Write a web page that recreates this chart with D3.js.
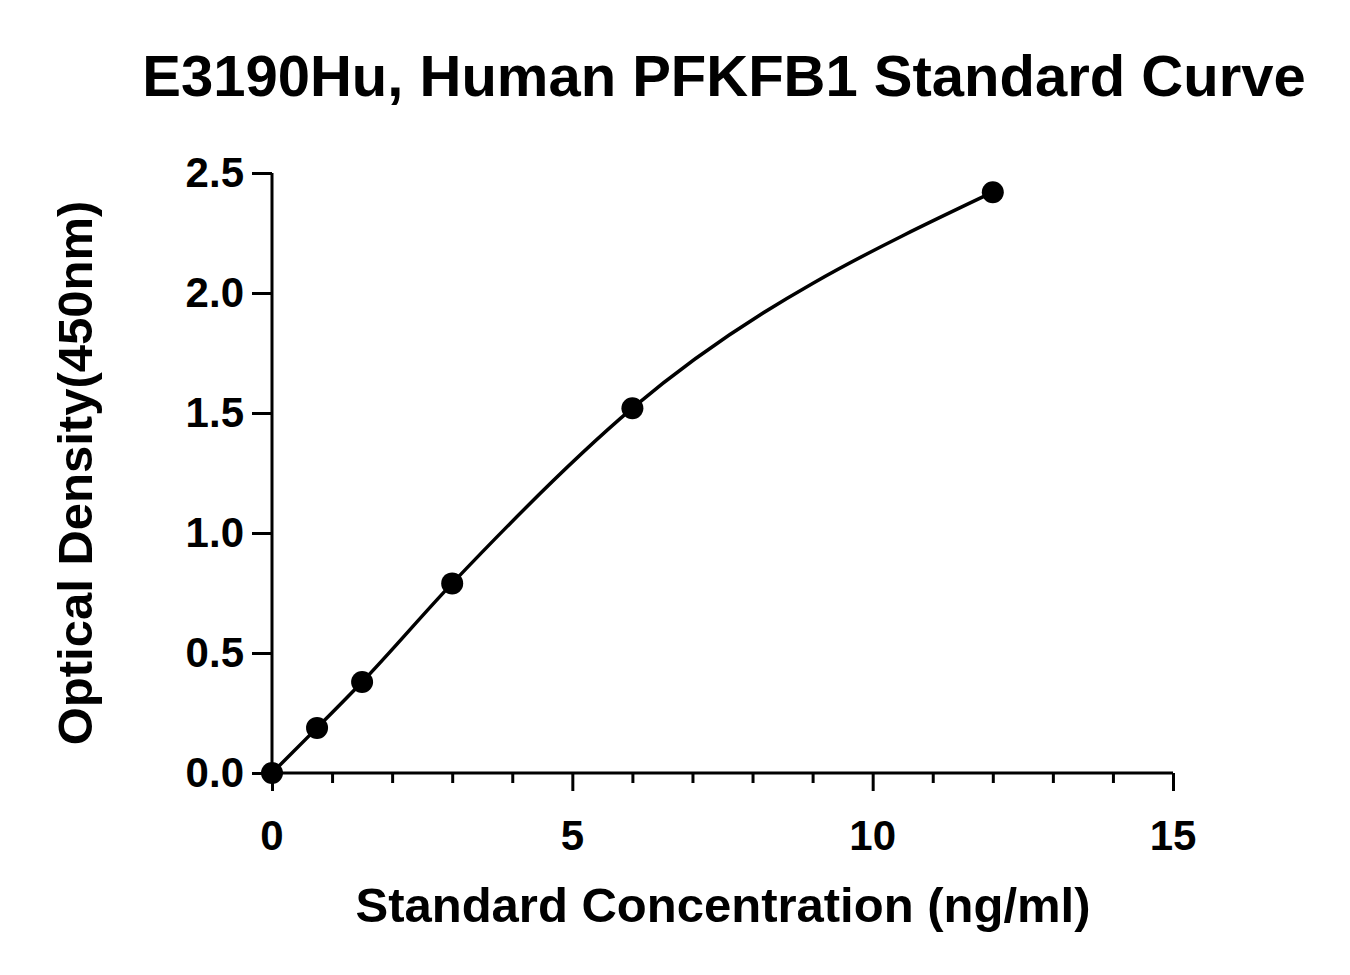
<!DOCTYPE html>
<html><head><meta charset="utf-8">
<script src="https://cdn.jsdelivr.net/npm/d3@7"></script>
<style>body{margin:0;background:#fff}text{font-family:Arial,"Liberation Sans",sans-serif;font-weight:bold}</style>
</head><body>
<svg id="chart" width="1350" height="975"></svg>
<script>
const concentration = [0, 0.75, 1.5, 3, 6, 12];
const density = [0.0, 0.188, 0.379, 0.79, 1.52, 2.42];
const xTicks = [0, 5, 10, 15];
const yTicks = [0, 0.5, 1.0, 1.5, 2.0, 2.5];

const svg = d3.select('#chart');
const x = d3.scaleLinear().domain([0, 15]).range([272, 1173]);
const y = d3.scaleLinear().domain([0, 2.5]).range([773, 173]);

svg.append('text').attr('x', 724).attr('y', 96).attr('text-anchor', 'middle')
  .attr('font-size', 58).text('E3190Hu, Human PFKFB1 Standard Curve');

// x axis
const xAxis = svg.append('g').attr('transform', 'translate(0,773)');
xAxis.call(d3.axisBottom(x).tickValues(d3.range(0, 16, 1)).tickSize(10).tickFormat(''));
xAxis.call(g => g.selectAll('.tick').filter(d => d % 5 === 0).select('line').attr('y2', 18));
xAxis.selectAll('path,line').attr('stroke', '#000').attr('stroke-width', 3);
xAxis.select('.domain').attr('d', `M${x(0)},0H${x(15)}`);
xTicks.forEach(t => svg.append('text').attr('x', x(t)).attr('y', 850)
  .attr('text-anchor', 'middle').attr('font-size', 42).text(t));

// y axis
const yAxis = svg.append('g').attr('transform', 'translate(272,0)');
yAxis.call(d3.axisLeft(y).tickValues(yTicks).tickSize(20).tickFormat(d3.format('.1f')));
yAxis.selectAll('path,line').attr('stroke', '#000').attr('stroke-width', 3);
yAxis.select('.domain').attr('d', `M0,${y(0)}V${y(2.5)}`);
yAxis.selectAll('text').attr('font-size', 42).attr('x', -28).attr('fill', '#000');

svg.append('text').attr('x', 723).attr('y', 922).attr('text-anchor', 'middle')
  .attr('font-size', 49).text('Standard Concentration (ng/ml)');
svg.append('text').attr('transform', 'translate(92,473) rotate(-90)').attr('text-anchor', 'middle')
  .attr('font-size', 49).text('Optical Density(450nm)');

const pts = concentration.map((c, i) => [c, density[i]]);
svg.append('path').datum(pts)
  .attr('d', d3.line().x(d => x(d[0])).y(d => y(d[1])).curve(d3.curveMonotoneX))
  .attr('fill', 'none').attr('stroke', '#000').attr('stroke-width', 3.5);
svg.selectAll('circle.pt').data(pts).enter().append('circle')
  .attr('cx', d => x(d[0])).attr('cy', d => y(d[1])).attr('r', 11).attr('fill', '#000');
</script>
</body></html>
